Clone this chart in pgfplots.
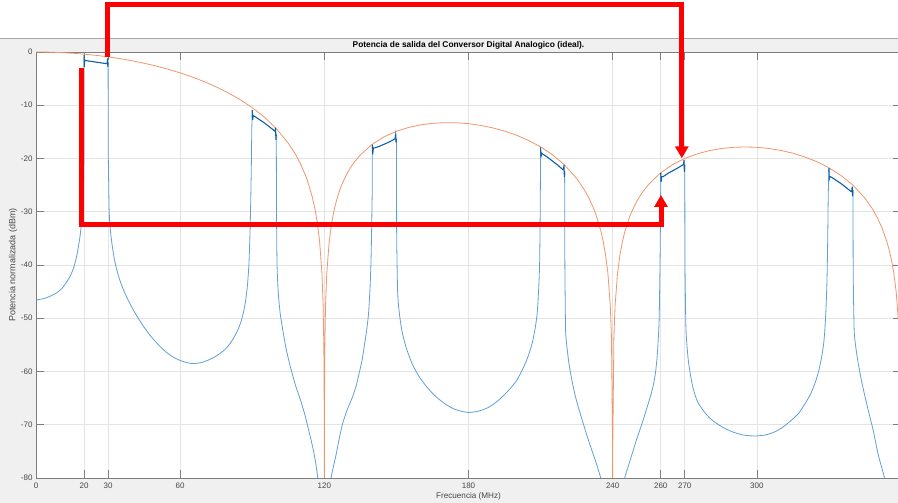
\documentclass[border=0pt]{standalone}
\usepackage{pgfplots}
\pgfplotsset{compat=1.18}
\usepackage{fontspec}
\setmainfont{Liberation Sans}
\usetikzlibrary{arrows.meta}

\definecolor{figbg}{RGB}{240,240,240}
\definecolor{gridc}{RGB}{228,228,228}
\definecolor{axc}{RGB}{125,125,125}
\definecolor{tickc}{RGB}{70,70,70}
\definecolor{bluelight}{RGB}{95,160,215}
\definecolor{bluedark}{RGB}{15,95,170}
\definecolor{orangec}{RGB}{238,150,110}

\pgfplotsset{
  skirt/.style={bluelight, line width=0.8bp, smooth, tension=0.4},
  band/.style={bluelight, line width=0.8bp},
  bandtop/.style={bluedark, line width=1.1bp},
}

\begin{document}
\begin{tikzpicture}[x=1bp,y=1bp]
\useasboundingbox (0,0) rectangle (898,503);
% figure background and title strip
\fill[figbg] (0,0) rectangle (898,464.5);
\draw[black!35, line width=0.8bp] (0,464.5) -- (898,464.5);

\begin{axis}[
  at={(36bp,25bp)}, anchor=south west,
  scale only axis, width=865bp, height=426bp,
  xmin=0, xmax=360, ymin=-80, ymax=0,
  axis background/.style={fill=white},
  xtick={0,20,30,60,120,180,240,260,270,300},
  xticklabels={0,20,30,60,120,180,240,260,270,300},
  ytick={-80,-70,-60,-50,-40,-30,-20,-10,0},
  yticklabels={-80,-70,-60,-50,-40,-30,-20,-10,0},
  xtick pos=both, ytick pos=both,
  tick align=inside, major tick length=8bp,
  grid=major, grid style={gridc, line width=0.6bp},
  axis line style={axc, line width=0.6bp},
  tick style={axc, line width=0.6bp},
  ticklabel style={font=\fontsize{8}{9}\selectfont, text=tickc},
  xticklabel style={anchor=center, yshift=-8bp},
  title={Potencia de salida del Conversor Digital Analogico (ideal).},
  title style={at={(0.5,1)}, anchor=center, yshift=1bp,
    font=\bfseries\fontsize{8.4}{9}\selectfont},
  xlabel={Frecuencia (MHz)},
  xlabel style={at={(0.5,-0.0423)}, anchor=center,
    font=\fontsize{8.2}{9}\selectfont, text=tickc},
  ylabel={Potencia normalizada (dBm)},
  ylabel style={at={(-0.0266,0.5)}, anchor=center,
    font=\fontsize{9}{10}\selectfont, text=tickc},
  clip=true,
]

% DAC output spectrum: skirts between the passbands
\addplot[skirt] coordinates {
(0,-46.6) (4,-46.2) (8,-45.4) (11,-44.3) (14,-42.3) (15.6,-40.6) (16.9,-38.4)
(18.3,-34.7) (19.2,-30.9) (19.7,-27) (19.95,-20)};
\addplot[skirt] coordinates {
(30.1,-20) (30.4,-29) (30.7,-32.1) (31.2,-34.5) (31.7,-36.3) (32.5,-38.6)
(33.5,-40.7) (35,-43.0) (37,-45.3) (39.5,-47.6) (42,-49.6) (45,-51.7)
(48,-53.5) (51,-55.0) (54,-56.3) (57.5,-57.4) (61,-58.1) (64,-58.45)
(66,-58.5) (69,-58.3) (72,-57.8) (75,-57.1) (77.8,-56.2) (80,-55.2)
(82,-53.9) (83.8,-52.4) (85.2,-50.8) (86.4,-48.8) (87.3,-46.5) (88.0,-43.8)
(88.6,-40) (89.0,-35) (89.3,-29.5) (89.6,-22) (89.8,-14.6)};
\addplot[skirt] coordinates {
(100.1,-30) (100.3,-39.7) (100.8,-45) (101.6,-49) (102.7,-52.2) (104,-55.5)
(105.5,-58.5) (107,-61.0) (108.2,-62.9) (109.6,-64.7) (111,-66.7)
(112.4,-69.0) (113.8,-71.6) (115.2,-74.3) (116.3,-76.9) (117.2,-79.8)
(117.8,-83)};
\addplot[skirt] coordinates {
(122.2,-83) (122.8,-80) (123.8,-77.8) (124.9,-75.6) (126.2,-72.6)
(127.6,-69.8) (129.5,-67.2) (131.8,-64.7) (133.3,-62.6) (134.5,-60.3)
(135.7,-57.9) (136.6,-55.3) (137.6,-52.3) (138.4,-49.1) (139.0,-44.5)
(139.4,-39.7) (139.7,-33) (139.9,-27.1)};
\addplot[skirt] coordinates {
(150.1,-35) (150.5,-45) (151.2,-49) (152.3,-52.4) (153.9,-55.3) (156.5,-58.5)
(159.5,-61) (163,-63.1) (166.4,-64.7) (170,-66.0) (173.3,-66.9) (176.5,-67.4)
(180.2,-67.7) (184.5,-67.4) (188.5,-66.7) (192.5,-65.4) (196.8,-63.5)
(200,-61.7) (202.4,-59.7) (204.6,-57.4) (206.5,-54.7) (207.7,-52) (208.6,-49)
(209.2,-44.5) (209.6,-39.7) (209.8,-32) (209.9,-26)};
\addplot[skirt] coordinates {
(220.1,-40) (220.4,-52.2) (221,-55.5) (221.8,-58.5) (223,-61.6) (224.5,-64.7)
(225.9,-67.0) (227.3,-69.1) (229,-71.6) (230.8,-74.1) (233,-77) (234.9,-79.8)
(235.8,-82)};
\addplot[skirt] coordinates {
(244.2,-82) (245.0,-80) (246.5,-77.8) (248,-75.6) (250,-72.7) (252.2,-69.8)
(254,-67.2) (255.7,-64.7) (256.9,-62.6) (257.8,-60.3) (258.4,-57.8)
(258.8,-55.3) (259.2,-52) (259.4,-49) (259.7,-40) (259.85,-33.4) (259.95,-28)};
\addplot[skirt] coordinates {
(270.1,-40) (270.5,-52) (271.5,-58) (273,-62.2) (274.2,-64.3) (275.7,-66)
(278.5,-67.8) (281.3,-69.1) (285.5,-70.4) (289.6,-71.3) (294,-71.9)
(297.9,-72.1) (300,-72.1) (303.8,-71.9) (307.6,-71.3) (311,-70.4) (314.5,-69.1)
(317.5,-67.8) (320.1,-66) (322.3,-64.3) (324.2,-62.2) (325.8,-59.8) (327,-57.2)
(327.8,-54.8) (328.3,-52.2) (328.8,-48) (329.2,-42.8) (329.5,-35) (329.7,-27.1)};
\addplot[skirt] coordinates {
(340.1,-42) (340.5,-52.2) (341.2,-55.5) (342.2,-58.5) (343.5,-61.6) (345,-64.7)
(346.7,-67.9) (348.4,-71) (350.5,-75.6) (353,-79.8) (354,-83)};

% passband edges (steep flanks)
\addplot[band] coordinates {(19.95,-20) (20.0,-0.6)};
\addplot[band] coordinates {(30.0,-2.0) (30.1,-20)};
\addplot[band] coordinates {(89.8,-14.6) (90.0,-10.9)};
\addplot[band] coordinates {(100.0,-15.5) (100.1,-30)};
\addplot[band] coordinates {(139.9,-27.1) (140.0,-17.4)};
\addplot[band] coordinates {(150.0,-16.3) (150.1,-35)};
\addplot[band] coordinates {(209.9,-26) (210.0,-17.9)};
\addplot[band] coordinates {(220.0,-22.4) (220.1,-40)};
\addplot[band] coordinates {(259.95,-28) (260.0,-22.7)};
\addplot[band] coordinates {(270.0,-21.2) (270.1,-40)};
\addplot[band] coordinates {(329.7,-27.1) (330.0,-21.8)};
\addplot[band] coordinates {(340.0,-26.0) (340.1,-42)};

% sinc envelope of the zero-order hold (fs = 120 MHz)
\addplot[orangec, line width=0.8bp] coordinates {
(0,0) (5,-0.025) (10,-0.099) (15,-0.224) (20,-0.401) (25,-0.629) (30,-0.912)
(35,-1.251) (40,-1.650) (45,-2.111) (50,-2.640) (55,-3.241) (60,-3.922)
(65,-4.692) (70,-5.563) (75,-6.548) (80,-7.670) (85,-8.959) (90,-10.454)
(95,-12.226) (100,-14.379) (105,-17.126) (108,-19.23) (110,-20.927)
(112,-22.99) (113,-24.207) (115,-27.259) (116,-29.26) (117,-31.829)
(118,-35.42) (119,-41.51) (119.5,-47.57) (119.8,-55.55) (119.95,-67.60)
(120,-150) (120.05,-67.61) (120.2,-55.58) (120.5,-47.64) (121,-41.66)
(122,-35.71) (123,-32.26) (124,-29.84) (125,-27.98) (126,-26.48) (127,-25.22)
(128,-24.15) (130,-22.38) (132,-20.97) (135,-19.31) (140,-17.30) (145,-15.90)
(150,-14.89) (155,-14.18) (160,-13.69) (165,-13.40) (170,-13.27) (175,-13.29)
(180,-13.46) (185,-13.78) (190,-14.24) (195,-14.85) (200,-15.63) (205,-16.61)
(210,-17.81) (215,-19.32) (220,-21.23) (225,-23.75) (228,-25.72) (230,-27.33)
(232,-29.31) (233,-30.49) (235,-33.47) (236,-35.43) (237,-37.96) (238,-41.51)
(239,-47.57) (239.5,-53.61) (239.95,-73.62) (240,-150) (240.05,-73.63)
(240.5,-53.64) (241,-47.64) (242,-41.66) (243,-38.18) (244,-35.72) (245,-33.83)
(247,-31.00) (248,-29.89) (250,-28.06) (252,-26.59) (255,-24.83) (260,-22.68)
(265,-21.14) (270,-20.00) (275,-19.16) (280,-18.55) (285,-18.14) (290,-17.91)
(295,-17.83) (300,-17.90) (305,-18.12) (310,-18.49) (315,-19.01) (320,-19.71)
(325,-20.61) (330,-21.74) (335,-23.17) (340,-25.01) (345,-27.46) (348,-29.39)
(350,-30.98) (352,-32.93) (354,-35.45) (355,-37.05) (356,-39.00) (357,-41.52)
(358,-45.06) (359,-51.10) (359.5,-57.13) (360,-150)
};

% passbands with their edge ripple
\addplot[bandtop] coordinates {
(20.0,-0.6) (20.1,-2.8) (20.25,-1.5) (20.6,-1.6) (22,-1.7) (25,-1.9) (28,-2.1)
(29.6,-2.2) (29.8,-1.2) (29.9,-2.8) (30.0,-2.0)};
\addplot[bandtop] coordinates {
(90.0,-10.9) (90.15,-12.8) (90.4,-11.9) (91,-12.1) (93,-12.7) (95,-13.3)
(97,-14.0) (99.5,-14.9) (99.7,-14.2) (99.85,-16.5) (100.0,-15.5)};
\addplot[bandtop] coordinates {
(140.0,-17.4) (140.15,-19.2) (140.4,-18.0) (141,-18.0) (143,-17.7) (145,-17.3)
(147,-16.9) (149.4,-16.3) (149.7,-15.5) (149.85,-17.0) (150.0,-16.3)};
\addplot[bandtop] coordinates {
(210.0,-17.9) (210.15,-19.8) (210.4,-19.0) (211,-19.2) (213,-19.8) (215,-20.5)
(217,-21.2) (219.3,-22.1) (219.6,-21.9) (219.75,-21.2) (219.9,-23.5) (220.0,-22.4)};
\addplot[bandtop] coordinates {
(260.0,-22.7) (260.15,-24.4) (260.4,-23.4) (261,-23.4) (263,-22.8) (265,-22.3)
(267,-21.8) (269.2,-21.2) (269.5,-21.0) (269.7,-20.3) (269.85,-22.5) (270.0,-21.2)};
\addplot[bandtop] coordinates {
(330.0,-21.8) (330.15,-23.8) (330.4,-23.4) (331,-23.5) (333,-24.1) (335,-24.7)
(337,-25.4) (339.2,-26.2) (339.5,-26.0) (339.7,-25.3) (339.85,-27.1) (340.0,-26.0)};
\end{axis}

% red annotation arrows
\draw[red, line width=5bp, line join=miter, -{Triangle[length=12bp,width=13bp]}]
  (107.7,446.3) -- (107.7,498) -- (681.8,498) -- (681.8,344.7);
\draw[red, line width=5bp, line join=miter, -{Triangle[length=12bp,width=13bp]}]
  (81.7,434.7) -- (81.7,278.3) -- (661,278.3) -- (661,308);
\end{tikzpicture}
\end{document}
